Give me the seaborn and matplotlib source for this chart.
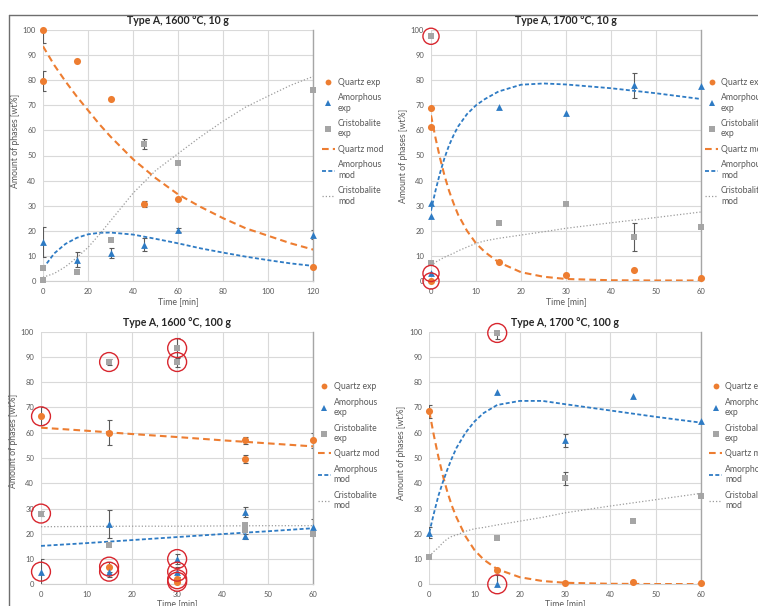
import matplotlib
matplotlib.use("Agg")
import matplotlib.pyplot as plt
from matplotlib.lines import Line2D
import seaborn as sns

# ---------------- Type A, 1600 °C, 10 g ----------------
tl_q_t = [0, 0, 15, 30, 45, 60, 120]
tl_q_v = [100, 79.5, 87.5, 72.5, 30.5, 32.5, 5.5]
tl_q_e = [5, 4, 0, 0, 1.2, 0, 0]
tl_a_t = [0, 15, 30, 45, 60, 120]
tl_a_v = [15.5, 8.5, 11, 14.5, 20.5, 18.5]
tl_a_e = [6, 3, 2, 2.5, 0.8, 1.8]
tl_c_t = [0, 0, 15, 30, 45, 60, 120]
tl_c_v = [5, 0.5, 3.5, 16.3, 54.5, 47, 76]
tl_c_e = [0, 0, 0, 0, 2, 0, 0]
tl_mod_t = [0, 5, 10, 15, 20, 25, 30, 40, 50, 60, 70, 80, 90, 100, 110, 120]
tl_q_mod = [93.5, 86, 79.5, 73.5, 68, 62.5, 57.5, 48.5, 41, 34.5, 29.5, 25, 21, 18, 15, 12.5]
tl_a_mod = [5, 11, 14.8, 17.2, 18.6, 19.2, 19.3, 18.5, 16.8, 15, 13, 11.3, 9.7, 8.3, 7, 6]
tl_c_mod = [1.5, 3, 5.7, 9.3, 13.4, 18.5, 24, 35, 44, 50.8, 57.5, 63.7, 69.3, 73.7, 78, 81.5]
tl_marked = []

# ---------------- Type A, 1700 °C, 10 g ----------------
tr_q_t = [0, 0, 0, 15, 30, 45, 60]
tr_q_v = [69, 61.5, 0, 7.5, 2.5, 4.5, 1]
tr_q_e = [0, 0, 0, 0, 0, 0, 0]
tr_a_t = [0, 0, 0, 15, 30, 45, 60]
tr_a_v = [31, 26, 3, 69.5, 67, 78, 77.5]
tr_a_e = [0, 0, 0, 0, 0, 5, 0]
tr_c_t = [0, 0, 15, 30, 45, 60]
tr_c_v = [97.5, 7, 23, 30.8, 17.5, 21.5]
tr_c_e = [0, 0, 0, 0, 5.5, 0]
tr_mod_t = [0, 1, 2, 3, 4, 5, 6, 8, 10, 12, 15, 20, 25, 30, 40, 50, 60]
tr_q_mod = [66, 57, 49, 42, 36, 31, 26.5, 20, 15, 11.5, 7.5, 3.5, 1.7, 0.8, 0.3, 0.2, 0.2]
tr_a_mod = [28, 36, 43, 49, 54, 58, 61.5, 66.5, 70, 72.5, 75.5, 78.2, 78.7, 78.3, 76.8, 74.8, 72.5]
tr_c_mod = [6, 7.5, 8.5, 9.5, 10.3, 11, 12, 13.5, 15, 16, 17, 18.3, 19.6, 21, 23.2, 25.3, 27.5]
tr_marked = [("c", 0), ("a", 2), ("q", 2)]

# ---------------- Type A, 1600 °C, 100 g ----------------
bl_q_t = [0, 15, 15, 30, 30, 45, 45, 60]
bl_q_v = [66.5, 60, 7, 2, 1, 57, 49.7, 57]
bl_q_e = [3.5, 5, 2, 1, 0, 1.5, 1.5, 3]
bl_a_t = [0, 15, 15, 30, 30, 45, 45, 60]
bl_a_v = [5, 24, 5, 10, 5, 28.5, 19, 22.5]
bl_a_e = [5, 5.5, 2, 2, 2, 2, 1, 3.5]
bl_c_t = [0, 15, 15, 30, 30, 45, 45, 60]
bl_c_v = [28, 88, 15.5, 93.5, 88, 23.5, 21.5, 20]
bl_c_e = [1, 1, 0, 4, 2, 0, 0, 0]
bl_mod_t = [0, 10, 20, 30, 40, 50, 60]
bl_q_mod = [62, 60.8, 59.5, 58.3, 57, 55.8, 54.6]
bl_a_mod = [15.2, 16.3, 17.5, 18.7, 19.9, 21, 22.2]
bl_c_mod = [22.8, 22.9, 23, 23, 23.1, 23.2, 23.2]
bl_marked = [("q", 0), ("c", 0), ("a", 0), ("c", 1), ("q", 2), ("a", 2),
             ("c", 3), ("c", 4), ("a", 3), ("a", 4), ("q", 3), ("q", 4)]

# ---------------- Type A, 1700 °C, 100 g ----------------
br_q_t = [0, 15, 30, 45, 60]
br_q_v = [68.5, 5.5, 0.5, 1, 0.5]
br_q_e = [2.5, 0, 0, 0, 0]
br_a_t = [0, 15, 15, 30, 45, 60]
br_a_v = [20.5, 76, 0, 57, 74.5, 64.5]
br_a_e = [2, 0, 3.5, 2.5, 0, 0]
br_c_t = [0, 15, 15, 30, 45, 60]
br_c_v = [11, 99.5, 18.5, 42, 25, 35]
br_c_e = [0, 2.5, 0, 2.5, 0, 0]
br_mod_t = [0, 1, 2, 3, 4, 5, 6, 8, 10, 12, 15, 20, 25, 30, 40, 50, 60]
br_q_mod = [68.5, 59, 50.5, 43, 36.5, 31, 26.5, 19, 13.5, 9.8, 6, 2.8, 1.3, 0.6, 0.2, 0.1, 0.1]
br_a_mod = [20.5, 28, 35, 40.5, 45.5, 50, 54, 60, 64.5, 67.8, 71, 72.6, 72.6, 71.3, 68.8, 66.3, 64]
br_c_mod = [11, 13, 14.5, 16.5, 18, 19, 19.5, 21, 22, 22.5, 23.5, 25, 26.5, 28.3, 31, 33.5, 36]
br_marked = [("c", 1), ("a", 2)]

titles = ["Type A, 1600 °C, 10 g", "Type A, 1700 °C, 10 g",
          "Type A, 1600 °C, 100 g", "Type A, 1700 °C, 100 g"]
legend_labels = ["Quartz exp", "Amorphous\nexp", "Cristobalite\nexp",
                 "Quartz mod", "Amorphous\nmod", "Cristobalite\nmod"]

ORANGE = "#ED7D31"
BLUE = "#2E7BC4"
GREY = "#A5A5A5"
CURVE_GREY = "#9C9C9C"
RED = "#D8262E"
TXT = "#595959"
Q_DASH = (0, (3.2, 2.0))
A_DASH = (0, (2.2, 1.3))
C_DASH = (0, (1.0, 1.6))

sns.set_theme(style="white")
plt.rcParams["font.family"] = ["Lato", "DejaVu Sans"]

W, H = 758, 606
fig = plt.figure(figsize=(W / 100, H / 100), dpi=100)


def rect(x0, x1, ytop, ybot):
    return [x0 / W, 1 - ybot / H, (x1 - x0) / W, (ybot - ytop) / H]


panels = [
    dict(rect=rect(43, 313.3, 30, 281), xmax=120, step=20,
         q=(tl_q_t, tl_q_v, tl_q_e), a=(tl_a_t, tl_a_v, tl_a_e), c=(tl_c_t, tl_c_v, tl_c_e),
         mod=(tl_mod_t, tl_q_mod, tl_a_mod, tl_c_mod), marked=tl_marked, ring=130,
         ylab=(-0.085, 0.56), xlab=-0.064, leg=(1.032, 0.81), title_pad=4.6),
    dict(rect=rect(431, 701, 30, 281), xmax=60, step=10,
         q=(tr_q_t, tr_q_v, tr_q_e), a=(tr_a_t, tr_a_v, tr_a_e), c=(tr_c_t, tr_c_v, tr_c_e),
         mod=(tr_mod_t, tr_q_mod, tr_a_mod, tr_c_mod), marked=tr_marked, ring=135,
         ylab=(-0.085, 0.50), xlab=-0.064, leg=(1.015, 0.81), title_pad=4.6),
    dict(rect=rect(41, 313.3, 331.7, 584.3), xmax=60, step=10,
         q=(bl_q_t, bl_q_v, bl_q_e), a=(bl_a_t, bl_a_v, bl_a_e), c=(bl_c_t, bl_c_v, bl_c_e),
         mod=(bl_mod_t, bl_q_mod, bl_a_mod, bl_c_mod), marked=bl_marked, ring=185,
         ylab=(-0.085, 0.567), xlab=-0.058, leg=(1.017, 0.80), title_pad=4.4),
    dict(rect=rect(429.3, 701, 331.7, 584.3), xmax=60, step=10,
         q=(br_q_t, br_q_v, br_q_e), a=(br_a_t, br_a_v, br_a_e), c=(br_c_t, br_c_v, br_c_e),
         mod=(br_mod_t, br_q_mod, br_a_mod, br_c_mod), marked=br_marked, ring=185,
         ylab=(-0.085, 0.52), xlab=-0.058, leg=(1.03, 0.80), title_pad=4.4),
]

for p, title in zip(panels, titles):
    ax = fig.add_axes(p["rect"])
    ax.set_xlim(0, p["xmax"])
    ax.set_ylim(0, 100)
    ax.set_xticks(range(0, p["xmax"] + 1, p["step"]))
    ax.set_yticks(range(0, 101, 10))
    ax.grid(True, color="#D9D9D9", linewidth=0.8)
    ax.set_axisbelow(True)
    for side in ("left", "top"):
        ax.spines[side].set_visible(False)
    ax.spines["right"].set_color("#A6A6A6")
    ax.spines["right"].set_linewidth(1.0)
    ax.spines["bottom"].set_color("#D0D0D0")
    ax.spines["bottom"].set_linewidth(0.8)
    ax.tick_params(length=0, labelsize=5.5, labelcolor=TXT, pad=5)

    # model curves
    t, qm, am, cm = p["mod"]
    sns.lineplot(x=t, y=qm, ax=ax, color=ORANGE, linewidth=1.5, linestyle=Q_DASH,
                 errorbar=None, sort=False, zorder=3)
    sns.lineplot(x=t, y=am, ax=ax, color=BLUE, linewidth=1.3, linestyle=A_DASH,
                 errorbar=None, sort=False, zorder=3)
    sns.lineplot(x=t, y=cm, ax=ax, color=CURVE_GREY, linewidth=0.9, linestyle=C_DASH,
                 errorbar=None, sort=False, zorder=3)

    # experimental points with error bars
    series = {"q": (ORANGE, "o", 26), "a": (BLUE, "^", 24), "c": (GREY, "s", 22)}
    for key, (col, mk, size) in series.items():
        xs, ys, es = p[key]
        ex = [x for x, e in zip(xs, es) if e > 0]
        ey = [y for y, e in zip(ys, es) if e > 0]
        ee = [e for e in es if e > 0]
        if ex:
            ax.errorbar(ex, ey, yerr=ee, fmt="none", ecolor="#5A5A5A",
                        elinewidth=0.8, capsize=1.8, capthick=0.8, zorder=2)
        sns.scatterplot(x=xs, y=ys, ax=ax, color=col, marker=mk, s=size,
                        linewidth=0, zorder=4, clip_on=False)

    # highlighted measurements
    if p["marked"]:
        mx = [p[k][0][i] for k, i in p["marked"]]
        my = [p[k][1][i] for k, i in p["marked"]]
        ax.scatter(mx, my, s=p["ring"], facecolors="none", edgecolors=RED,
                   linewidths=1.0, zorder=5, clip_on=False)

    ax.set_title(title, fontsize=7.6, fontweight="bold", color="#262626",
                 pad=p["title_pad"])
    ax.set_xlabel("Time [min]", fontsize=6.3, color=TXT)
    ax.xaxis.set_label_coords(0.5, p["xlab"])
    ax.set_ylabel("Amount of phases [wt%]", fontsize=6.3, color=TXT)
    ax.yaxis.set_label_coords(*p["ylab"])

    handles = [
        Line2D([], [], linestyle="none", marker="o", markersize=4.2, color=ORANGE, markeredgewidth=0),
        Line2D([], [], linestyle="none", marker="^", markersize=4.2, color=BLUE, markeredgewidth=0),
        Line2D([], [], linestyle="none", marker="s", markersize=3.8, color=GREY, markeredgewidth=0),
        Line2D([], [], color=ORANGE, linewidth=1.5, linestyle=Q_DASH),
        Line2D([], [], color=BLUE, linewidth=1.3, linestyle=A_DASH),
        Line2D([], [], color=CURVE_GREY, linewidth=0.9, linestyle=C_DASH),
    ]
    ax.legend(handles, legend_labels, loc="upper left", bbox_to_anchor=p["leg"],
              frameon=False, fontsize=6.2, labelcolor=TXT, handlelength=1.5,
              handletextpad=0.35, labelspacing=0.75, borderpad=0, borderaxespad=0)

# chart frame lines
fig.add_artist(Line2D([9 / W, 9 / W], [0, 1 - 15 / H], transform=fig.transFigure,
                      color="#6E6E6E", linewidth=1.0))
fig.add_artist(Line2D([9 / W, 1], [1 - 15 / H, 1 - 15 / H], transform=fig.transFigure,
                      color="#6E6E6E", linewidth=1.0))

fig.savefig("out.png", dpi=100, facecolor="white")
